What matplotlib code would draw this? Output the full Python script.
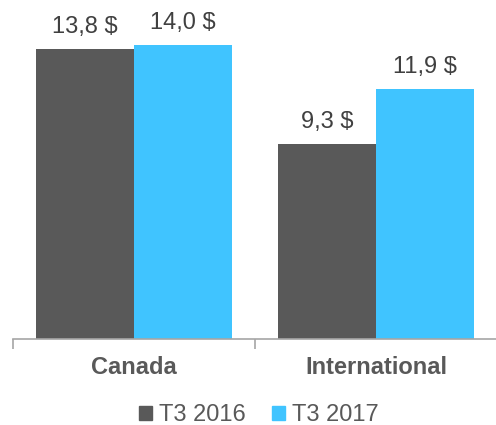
import matplotlib
matplotlib.use("Agg")
import matplotlib.pyplot as plt
import numpy as np
from matplotlib.patches import Patch

categories = ["Canada", "International"]
series_names = ["T3 2016", "T3 2017"]
values_2016 = [13.8, 9.3]
values_2017 = [14.0, 11.9]
labels_2016 = ["13,8 $", "9,3 $"]
labels_2017 = ["14,0 $", "11,9 $"]

plt.rcParams['font.family'] = ['Liberation Sans', 'DejaVu Sans']

W, H = 496, 425
fig = plt.figure(figsize=(W/100, H/100), dpi=100)
ax = fig.add_axes([13/W, 86/H, 484/W, 336/H])

x = np.arange(len(categories))
bw = 0.405
c1, c2 = "#595959", "#40C4FF"
b1 = ax.bar(x - bw/2, values_2016, bw, color=c1)
b2 = ax.bar(x + bw/2, values_2017, bw, color=c2)

for bars, labs in ((b1, labels_2016), (b2, labels_2017)):
    for r, lab in zip(bars, labs):
        ax.annotate(lab, (r.get_x() + r.get_width()/2, r.get_height()),
                    xytext=(0, 11), textcoords="offset pixels",
                    ha="center", va="bottom", fontsize=17, color="#404040")

ax.set_xlim(-0.5, 1.5)
ax.set_ylim(0, 16)
for s in ("top", "right", "left"):
    ax.spines[s].set_visible(False)
ax.spines["bottom"].set_color("#A6A6A6")
ax.spines["bottom"].set_linewidth(1.2)
ax.set_yticks([])
ax.set_xticks([-0.5, 0.5, 1.5])
ax.set_xticklabels([])
ax.tick_params(axis="x", length=7, color="#A6A6A6", width=1.2)

fig.canvas.draw()
for xi, cat in zip(x, categories):
    xf = ax.transData.transform((xi, 0))[0] / W
    fig.text(xf, 1 - 368/H, cat, ha="center", va="center", fontsize=17,
             fontweight="bold", color="#595959")

handles = [Patch(color=c1), Patch(color=c2)]
fig.legend(handles, series_names, loc="center", bbox_to_anchor=(259/W, 1 - 415/H),
           ncol=2, frameon=False, fontsize=17, labelcolor="#595959",
           handlelength=0.55, handleheight=0.55, handletextpad=0.3, columnspacing=1.1,
           borderpad=0)

fig.savefig("out.png", dpi=100)
